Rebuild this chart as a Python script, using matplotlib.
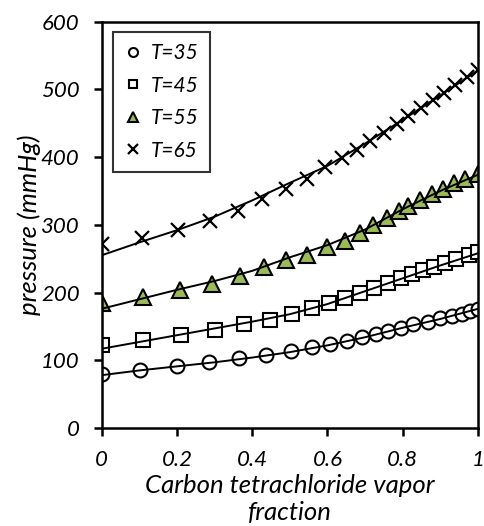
import matplotlib
matplotlib.use("Agg")
import matplotlib.pyplot as plt
import numpy as np

# measured points (vapor fraction, pressure in mmHg)
x35 = [0, 0.102, 0.199, 0.284, 0.366, 0.437, 0.502, 0.558, 0.607, 0.652, 0.691,
       0.729, 0.762, 0.795, 0.827, 0.866, 0.900, 0.931, 0.957, 0.980, 1.0]
p35 = [80, 86, 92, 97, 103, 108, 114, 119, 124, 129, 134,
       139, 143, 148, 153, 157, 162, 166, 169, 172, 175]

x45 = [0, 0.111, 0.210, 0.301, 0.378, 0.448, 0.505, 0.558, 0.605, 0.647, 0.687,
       0.724, 0.760, 0.795, 0.824, 0.855, 0.884, 0.913, 0.942, 0.975, 1.0]
p45 = [123, 130, 137, 145, 153, 160, 169, 177, 184, 192, 200,
       206, 214, 221, 227, 233, 238, 244, 250, 255, 260]

x55 = [0, 0.109, 0.208, 0.294, 0.368, 0.430, 0.489, 0.545, 0.598, 0.647, 0.687,
       0.722, 0.758, 0.789, 0.815, 0.847, 0.878, 0.908, 0.937, 0.966, 1.0]
p55 = [184, 194, 204, 213, 225, 237, 248, 256, 267, 276, 288,
       300, 310, 320, 328, 337, 345, 353, 361, 368, 375]

x65 = [0, 0.106, 0.202, 0.288, 0.362, 0.426, 0.490, 0.545, 0.594, 0.638, 0.678,
       0.714, 0.749, 0.785, 0.815, 0.848, 0.880, 0.910, 0.940, 0.971, 1.0]
p65 = [271, 280, 292, 306, 321, 338, 353, 368, 385, 398, 411,
       424, 436, 449, 460, 473, 484, 495, 506, 518, 528]

# model curves
x_line = [0, 0.1, 0.2, 0.3, 0.4, 0.5, 0.6, 0.7, 0.8, 0.9, 1.0]
line35 = [78, 85, 91, 97, 104, 112, 122, 134, 148, 161, 176]
line45 = [117, 127, 137, 147, 157, 168, 183, 202, 221, 240, 258]
line55 = [176, 190, 204, 217, 232, 252, 270, 293, 323, 350, 374]
line65 = [255, 274, 292, 312, 336, 362, 387, 420, 455, 491, 528]

labels = ['T=35', 'T=45', 'T=55', 'T=65']

plt.rcParams['font.family'] = ['Lato', 'DejaVu Sans']
plt.rcParams['font.style'] = 'italic'

fig = plt.figure(figsize=(4.85, 5.26), dpi=100)
ax = fig.add_axes([0.2097, 0.1863, 0.7759, 0.7727])

ax.plot(x35, p35, 'o', ms=10, mfc='white', mec='black', mew=1.5, ls='none', label=labels[0], zorder=2)
ax.plot(x45, p45, 's', ms=9.5, mfc='white', mec='black', mew=1.5, ls='none', label=labels[1], zorder=2)
ax.plot(x55, p55, '^', ms=12, mfc='#9BBB59', mec='black', mew=1.5, ls='none', label=labels[2], zorder=2)
ax.plot(x65, p65, 'x', ms=10, mec='black', mew=1.6, ls='none', label=labels[3], zorder=2)

for ln in [line35, line45, line55, line65]:
    ax.plot(x_line, ln, color='black', lw=1.4, zorder=3)

ax.set_xlim(0, 1)
ax.set_ylim(0, 600)
ax.set_xticks([0, 0.2, 0.4, 0.6, 0.8, 1])
ax.set_xticklabels(['0', '0.2', '0.4', '0.6', '0.8', '1'])
ax.set_yticks(range(0, 601, 100))

for s in ax.spines.values():
    s.set_linewidth(1.8)
ax.tick_params(direction='out', length=6, width=1.8, labelsize=16, pad=10)

ax.set_xlabel('Carbon tetrachloride vapor\nfraction', fontsize=18.5, labelpad=3, linespacing=1.2)
ax.set_ylabel('pressure (mmHg)', fontsize=18.5, labelpad=0)

leg = ax.legend(loc='upper left', fontsize=15, markerscale=0.65, frameon=True, fancybox=False,
                handlelength=0.8, handletextpad=0.45, labelspacing=0.6,
                borderpad=0.55, borderaxespad=0, bbox_to_anchor=(0.03, 0.975))
leg.get_frame().set_edgecolor('black')
leg.get_frame().set_linewidth(1.5)

fig.savefig('out.png', dpi=100)
